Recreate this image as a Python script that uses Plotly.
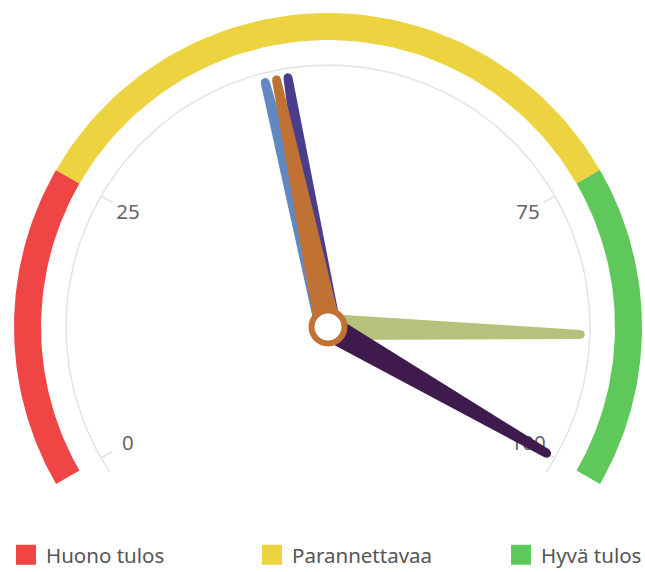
import numpy as np
import plotly.graph_objects as go

# ---- data ----
band_names = ["Huono tulos", "Parannettavaa", "Hyvä tulos"]
band_starts = [0, 25, 75]
band_ends = [25, 75, 100]
band_colors = ["#ef4545", "#eed340", "#5ec85a"]

tick_values = [0, 25, 75, 100]
tick_labels = ["0", "25", "75", "100"]

needle_values = [88.2, 100, 44.0, 46.2, 45.1]
needle_colors = ["#b6c17c", "#3f1b4d", "#6288c2", "#4b3d8d", "#c07234"]

# ---- geometry ----
R_OUT, BAND_W = 314, 27
R_AXIS = 262
R_LABEL = 231
NEEDLE_LEN = 257
W_BASE, W_TIP = 13, 4.5


def ang(v):
    return np.deg2rad(210 - 2.4 * np.asarray(v, dtype=float))


fig = go.Figure()

# colored band
for name, a, b, c in zip(band_names, band_starts, band_ends, band_colors):
    v = np.linspace(a, b, 80)
    t = ang(v)
    xo, yo = R_OUT * np.cos(t), R_OUT * np.sin(t)
    ri = R_OUT - BAND_W
    xi, yi = ri * np.cos(t[::-1]), ri * np.sin(t[::-1])
    fig.add_trace(go.Scatter(x=np.r_[xo, xi, xo[0]], y=np.r_[yo, yi, yo[0]],
                             fill="toself", fillcolor=c, mode="lines",
                             line=dict(width=0, color=c), showlegend=False,
                             hoverinfo="skip"))

# thin axis arc
v = np.linspace(-1.5, 101.5, 200)
t = ang(v)
fig.add_trace(go.Scatter(x=R_AXIS * np.cos(t), y=R_AXIS * np.sin(t), mode="lines",
                         line=dict(color="#e3e3e3", width=1.5), showlegend=False,
                         hoverinfo="skip"))

# tick marks
tx, ty = [], []
for tv in tick_values:
    a = ang(tv)
    tx += [R_AXIS * np.cos(a), (R_AXIS - 13) * np.cos(a), None]
    ty += [R_AXIS * np.sin(a), (R_AXIS - 13) * np.sin(a), None]
fig.add_trace(go.Scatter(x=tx, y=ty, mode="lines", line=dict(color="#e3e3e3", width=1.5),
                         showlegend=False, hoverinfo="skip"))

# tick labels
ta = ang(tick_values)
fig.add_trace(go.Scatter(x=R_LABEL * np.cos(ta), y=R_LABEL * np.sin(ta) - 2, mode="text",
                         text=tick_labels, textposition="middle center",
                         textfont=dict(family="Noto Sans", size=20.5, color="#666666"),
                         showlegend=False, hoverinfo="skip"))

# needles
for val, col in zip(needle_values, needle_colors):
    a = float(ang(val))
    ux, uy = np.cos(a), np.sin(a)
    px, py = -uy, ux
    cap = np.linspace(-np.pi / 2, np.pi / 2, 20)
    cx = (NEEDLE_LEN - W_TIP) * ux + W_TIP * (np.cos(cap) * ux + np.sin(cap) * px)
    cy = (NEEDLE_LEN - W_TIP) * uy + W_TIP * (np.cos(cap) * uy + np.sin(cap) * py)
    back = np.linspace(np.pi / 2, 3 * np.pi / 2, 20)
    bx = W_BASE * (np.cos(back) * ux + np.sin(back) * px)
    by = W_BASE * (np.cos(back) * uy + np.sin(back) * py)
    xs = np.r_[cx, bx, cx[0]]
    ys = np.r_[cy, by, cy[0]]
    fig.add_trace(go.Scatter(x=xs, y=ys, fill="toself", fillcolor=col, mode="lines",
                             line=dict(width=0, color=col), showlegend=False,
                             hoverinfo="skip"))

# pivot
fig.add_trace(go.Scatter(x=[0], y=[0], mode="markers",
                         marker=dict(size=33, color="white",
                                     line=dict(color=needle_colors[-1], width=6)),
                         showlegend=False, hoverinfo="skip"))

# legend entries (one legend per item so each sits at its own spot)
legend_ids = ["legend", "legend2", "legend3"]
legend_x = [0.0093, 0.3907, 0.7767]
for name, c, lid in zip(band_names, band_colors, legend_ids):
    fig.add_trace(go.Scatter(x=[None], y=[None], mode="markers", name=name, legend=lid,
                             marker=dict(symbol="square", size=16, color=c,
                                         line=dict(color=c, width=4))))

CX, CY = 328, 327
W, H = 645, 572
legend_style = dict(orientation="h", xanchor="left", y=0.03, yanchor="middle",
                    font=dict(family="Noto Sans", size=20.5, color="#555555"),
                    bgcolor="rgba(0,0,0,0)")
fig.update_layout(
    width=W, height=H,
    margin=dict(l=0, r=0, t=0, b=0, autoexpand=False),
    paper_bgcolor="white", plot_bgcolor="white",
    xaxis=dict(range=[-CX, W - CX], visible=False, fixedrange=True),
    yaxis=dict(range=[-(H - CY), CY], visible=False, fixedrange=True),
    showlegend=True,
    legend=dict(x=legend_x[0], **legend_style),
    legend2=dict(x=legend_x[1], **legend_style),
    legend3=dict(x=legend_x[2], **legend_style),
)

fig.write_html("out.html", config={"displayModeBar": False},
               post_script="document.body.style.margin='0';document.body.style.overflow='hidden';")
